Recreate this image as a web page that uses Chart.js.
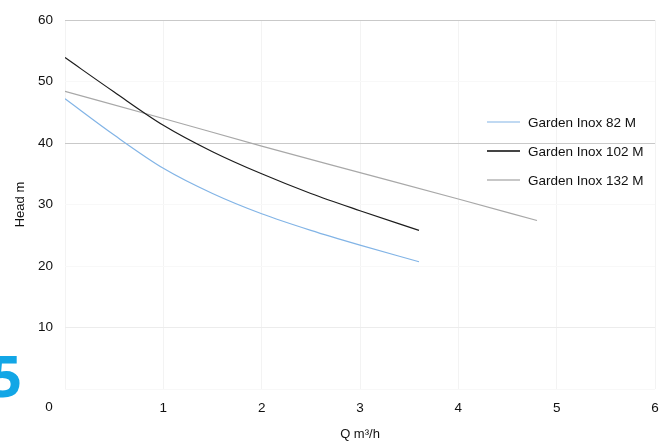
<!DOCTYPE html>
<html>
<head>
<meta charset="utf-8">
<script src="https://cdn.jsdelivr.net/npm/chart.js@4.4.1/dist/chart.umd.min.js"></script>
<style>
  html, body { margin: 0; padding: 0; background: #fff; }
  #wrap { position: relative; width: 670px; height: 448px; overflow: hidden; }
  #mark { position: absolute; left: -11px; top: 346px; font: bold 58px 'Noto Sans', sans-serif; line-height: 58px; color: #12a6e6; }
</style>
</head>
<body>
<div id="wrap">
  <canvas id="myChart" width="670" height="448"></canvas>
  <div id="mark">5</div>
</div>
<script>
// flow Q (m3/h) and head (m)
const q82 = [0, 0.5, 1, 1.5, 2, 2.5, 3, 3.6];
const head82 = [47.2, 41.3, 35.9, 31.8, 28.5, 25.8, 23.4, 20.7];
const q102 = [0, 0.5, 1, 1.5, 2, 2.5, 3, 3.6];
const head102 = [53.9, 48.3, 42.9, 38.6, 35.0, 31.8, 29.0, 25.8];
const q132 = [0, 1, 2, 3, 4, 4.8];
const head132 = [48.4, 44.0, 39.5, 35.2, 30.9, 27.4];
const seriesNames = ['Garden Inox 82 M', 'Garden Inox 102 M', 'Garden Inox 132 M'];

const FONT = "'Liberation Sans', Arial, sans-serif";

const pts = (xs, ys) => xs.map((x, i) => ({x: x, y: ys[i]}));

// legend drawn inside the plot, on the right
const sideLegend = {
  id: 'sideLegend',
  afterDraw(chart) {
    const ctx = chart.ctx;
    const o = chart.options.plugins.sideLegend;
    ctx.save();
    chart.data.datasets.forEach((ds, i) => {
      const y = o.y + i * o.gap;
      ctx.strokeStyle = o.colors[i];
      ctx.lineWidth = o.widths[i];
      ctx.beginPath();
      ctx.moveTo(o.x, y);
      ctx.lineTo(o.x + o.len, y);
      ctx.stroke();
      ctx.fillStyle = '#111';
      ctx.font = '13.5px ' + FONT;
      ctx.textBaseline = 'middle';
      ctx.fillText(ds.label, o.x + o.len + 8, y + 1);
    });
    // shared origin label
    const a = chart.chartArea;
    ctx.font = '13.5px ' + FONT;
    ctx.textAlign = 'center';
    ctx.fillText('0', a.left - 16, a.bottom + 18);
    ctx.restore();
  }
};

const data = {
  datasets: [
    { label: seriesNames[0], data: pts(q82, head82), borderColor: '#82b4e6', borderWidth: 1.2 },
    { label: seriesNames[1], data: pts(q102, head102), borderColor: '#1c1c1c', borderWidth: 1.2 },
    { label: seriesNames[2], data: pts(q132, head132), borderColor: '#a8a8a8', borderWidth: 1.2 }
  ]
};

const config = {
  type: 'scatter',
  data: data,
  options: {
    responsive: false,
    animation: false,
    showLine: true,
    elements: { point: { radius: 0 }, line: { tension: 0.4, cubicInterpolationMode: 'monotone' } },
    layout: { padding: { top: 15, right: 15, left: 0, bottom: 0 } },
    plugins: {
      legend: { display: false },
      tooltip: { enabled: false },
      sideLegend: {
        x: 487, y: 122, gap: 29, len: 33,
        colors: ['#82b4e6', '#444444', '#8f8f8f'],
        widths: [1.2, 2, 1.2]
      }
    },
    scales: {
      x: {
        type: 'linear', min: 0, max: 6,
        ticks: { stepSize: 1, padding: 11, color: '#111', font: { family: FONT, size: 13.5 },
                 callback: v => v === 0 ? '' : v },
        grid: { color: '#f3f3f3', drawTicks: false },
        border: { display: false },
        title: { display: true, text: 'Q m³/h', color: '#111', font: { family: FONT, size: 13 },
                 padding: { top: 0, bottom: 6 } },
        afterFit: s => { s.height = 59; }
      },
      y: {
        min: 0, max: 60,
        ticks: { stepSize: 10, padding: 12, color: '#111', font: { family: FONT, size: 13.5 },
                 callback: v => v === 0 ? '' : v },
        grid: { drawTicks: false,
                color: c => (c.tick.value === 60 || c.tick.value === 40) ? '#c9c9c9' : (c.tick.value === 10 ? '#ececec' : '#f8f8f8') },
        border: { display: false },
        title: { display: true, text: 'Head m', color: '#111', font: { family: FONT, size: 13 },
                 padding: { top: 13, bottom: 0 } },
        afterFit: s => { s.width = 65; }
      }
    }
  },
  plugins: [sideLegend]
};

const ctx = document.getElementById('myChart').getContext('2d');
const myChart = new Chart(ctx, config);
</script>
</body>
</html>
